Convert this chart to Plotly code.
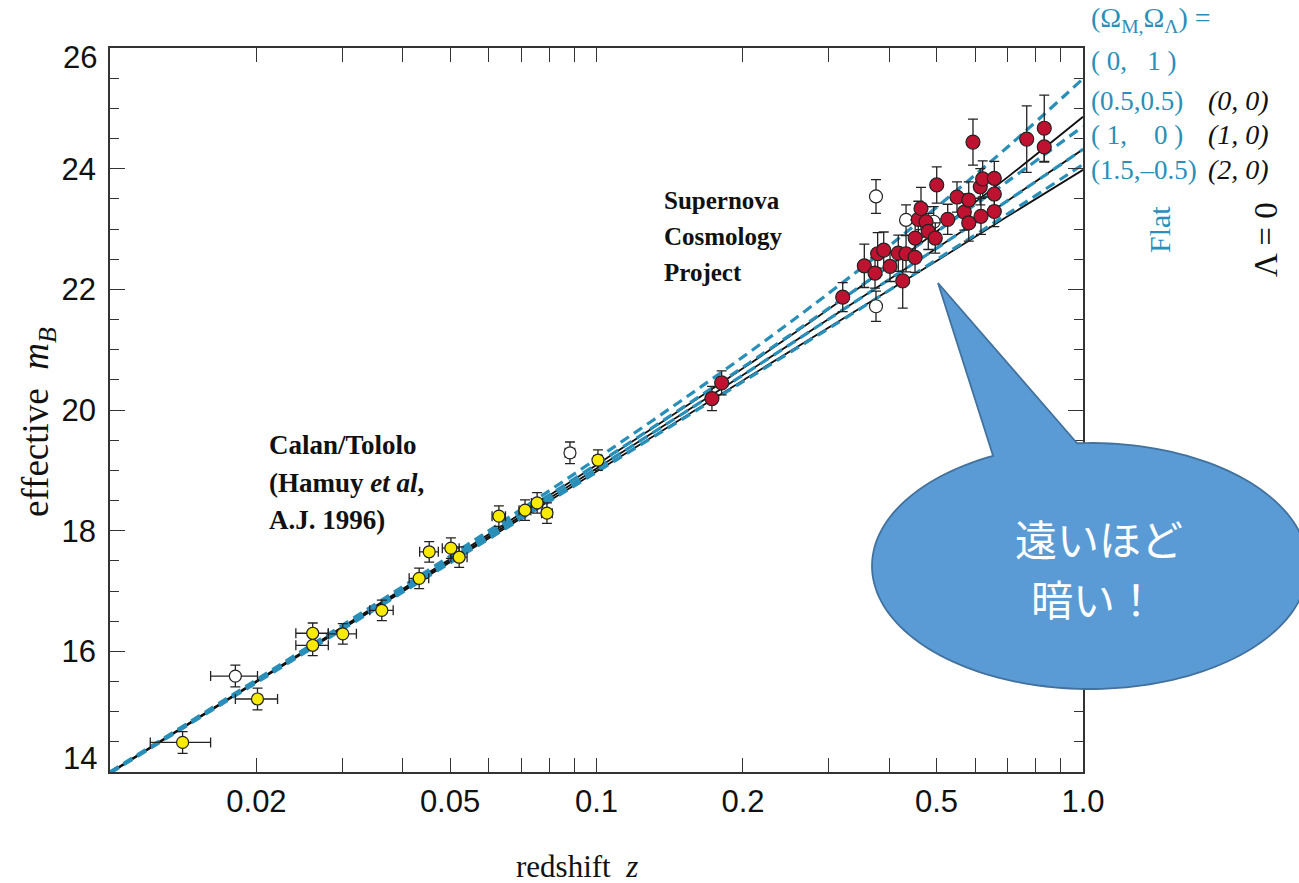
import numpy as np
import plotly.graph_objects as go

# ---------------- data ----------------
# model curves: redshift grid and effective m_B for each cosmology
z_model = [0.01, 0.02, 0.05, 0.1, 0.2, 0.35, 0.5, 0.7, 1.0]
m_flat_0_1 = [14.00, 15.53, 17.58, 19.19, 20.88, 22.35, 23.36, 24.36, 25.49]
m_flat_05_05 = [13.99, 15.51, 17.54, 19.10, 20.71, 22.06, 22.95, 23.79, 24.70]
m_flat_1_0 = [13.99, 15.50, 17.50, 19.03, 20.58, 21.86, 22.68, 23.47, 24.32]
m_flat_15_m05 = [13.98, 15.48, 17.465, 18.97, 20.47, 21.69, 22.49, 23.25, 24.07]
m_open_0_0 = [13.99, 15.51, 17.53, 19.09, 20.69, 22.05, 22.96, 23.86, 24.86]
m_open_1_0 = [13.99, 15.50, 17.50, 19.03, 20.58, 21.86, 22.68, 23.47, 24.32]
m_open_2_0 = [13.98, 15.49, 17.475, 18.98, 20.49, 21.70, 22.47, 23.21, 23.98]

# Calan/Tololo supernovae (yellow)
ct_z = [0.0141, 0.0201, 0.0261, 0.0261, 0.0301, 0.0362, 0.0432, 0.0453,
        0.0502, 0.0522, 0.0630, 0.0713, 0.0755, 0.0791, 0.1007]
ct_m = [14.49, 15.21, 16.10, 16.30, 16.29, 16.68, 17.21, 17.65,
        17.71, 17.56, 18.24, 18.34, 18.46, 18.29, 19.17]
ct_zerr = [0.002, 0.002, 0.002, 0.002, 0.002, 0.002, 0.002, 0.002,
           0.002, 0.002, 0.002, 0.002, 0.002, 0.002, 0.002]
ct_merr = [0.18, 0.18, 0.17, 0.17, 0.17, 0.17, 0.17, 0.17,
           0.17, 0.17, 0.17, 0.17, 0.17, 0.17, 0.17]

# Calan/Tololo excluded (open)
cto_z = [0.0181, 0.0882]
cto_m = [15.59, 19.29]
cto_zerr = [0.002, 0.002]
cto_merr = [0.18, 0.18]

# Supernova Cosmology Project (red)
scp_z = [0.1727, 0.1808, 0.3207, 0.3552, 0.3737, 0.3784, 0.3894, 0.4012,
         0.4172, 0.4260, 0.4328, 0.4516, 0.4519, 0.4587, 0.4645, 0.4757,
         0.4808, 0.4970, 0.5004, 0.5271, 0.5508, 0.5702, 0.5823, 0.5823,
         0.5941, 0.6150, 0.6220, 0.6170, 0.6572, 0.6572, 0.6572, 0.7662,
         0.8325, 0.8325]
scp_m = [20.19, 20.45, 21.87, 22.39, 22.27, 22.59, 22.65, 22.38,
         22.60, 22.14, 22.59, 22.53, 22.85, 23.16, 23.34, 23.12,
         22.96, 22.85, 23.73, 23.16, 23.53, 23.28, 23.48, 23.10,
         24.44, 23.70, 23.83, 23.21, 23.84, 23.58, 23.29, 24.49,
         24.67, 24.36]
scp_merr = [0.20, 0.20, 0.24, 0.36, 0.25, 0.35, 0.30, 0.25,
            0.30, 0.45, 0.30, 0.25, 0.30, 0.30, 0.35, 0.25,
            0.30, 0.25, 0.30, 0.25, 0.25, 0.30, 0.30, 0.30,
            0.38, 0.30, 0.30, 0.30, 0.28, 0.20, 0.25, 0.55,
            0.55, 0.25]

# SCP excluded (open)
scpo_z = [0.3754, 0.3754, 0.4328, 0.4933]
scpo_m = [23.54, 21.72, 23.15, 23.12]
scpo_merr = [0.28, 0.25, 0.25, 0.25]

x_tickvals = [0.02, 0.05, 0.1, 0.2, 0.5, 1.0]
x_ticktext = ["0.02", "0.05", "0.1", "0.2", "0.5", "1.0"]
x_minor = [0.03, 0.04, 0.06, 0.07, 0.08, 0.09, 0.3, 0.4, 0.6, 0.7, 0.8, 0.9]
y_tickvals = [16, 18, 20, 22, 24]
y_ticktext = ["16", "18", "20", "22", "24"]
y_end_labels = ["26", "14"]   # end labels, drawn just inside the frame

# ---------------- styling / layout ----------------
W, H = 1299, 883
L, R, T, B = 110, 1083, 48, 772
TEAL = "#2a8fb8"
SERIF = "Liberation Serif"
SANS = "Liberation Sans"


def px(x):
    return (x - L) / (R - L)


def py(y):
    return (B - y) / (B - T)


fig = go.Figure()

for m in [m_open_0_0, m_open_1_0, m_open_2_0]:
    fig.add_trace(go.Scatter(x=z_model, y=m, mode="lines",
                             line=dict(color="#111111", width=1.8),
                             line_shape="spline", hoverinfo="skip"))
for m in [m_flat_0_1, m_flat_05_05, m_flat_1_0, m_flat_15_m05]:
    fig.add_trace(go.Scatter(x=z_model, y=m, mode="lines",
                             line=dict(color=TEAL, width=3.2, dash="10px,6px"),
                             line_shape="spline", hoverinfo="skip"))

err_style = dict(type="data", color="#222222", thickness=1.3, width=5)

fig.add_trace(go.Scatter(
    x=cto_z, y=cto_m, mode="markers",
    marker=dict(size=12, color="white", line=dict(color="#222222", width=1.2)),
    error_x=dict(err_style, array=cto_zerr),
    error_y=dict(err_style, array=cto_merr)))
fig.add_trace(go.Scatter(
    x=ct_z, y=ct_m, mode="markers",
    marker=dict(size=12, color="#f8ea00", line=dict(color="#222222", width=1.2)),
    error_x=dict(err_style, array=ct_zerr),
    error_y=dict(err_style, array=ct_merr)))
fig.add_trace(go.Scatter(
    x=scpo_z, y=scpo_m, mode="markers",
    marker=dict(size=13, color="white", line=dict(color="#222222", width=1.2)),
    error_y=dict(err_style, array=scpo_merr)))
fig.add_trace(go.Scatter(
    x=scp_z, y=scp_m, mode="markers",
    marker=dict(size=14, color="#bf1230", line=dict(color="#222222", width=1.2)),
    error_y=dict(err_style, array=scp_merr)))

TICKFONT = dict(family=SANS, size=31, color="#111111")

fig.update_layout(
    width=W, height=H,
    margin=dict(l=L, r=W - R, t=T, b=H - B),
    paper_bgcolor="white", plot_bgcolor="white",
    showlegend=False,
    xaxis=dict(type="log", range=[-2, 0], showgrid=False, zeroline=False,
               showline=True, linecolor="#333333", linewidth=1.5, mirror="allticks",
               ticks="inside", ticklen=14, tickwidth=1.2, tickcolor="#333333",
               tickmode="array", tickvals=x_tickvals, ticktext=x_ticktext,
               tickfont=TICKFONT, ticklabelstandoff=1,
               minor=dict(tickmode="array", tickvals=x_minor, ticks="inside",
                          ticklen=14, tickwidth=1.2, tickcolor="#333333")),
    yaxis=dict(range=[14, 26], showgrid=False, zeroline=False,
               showline=True, linecolor="#333333", linewidth=1.5, mirror="allticks",
               ticks="inside", ticklen=15, tickwidth=1.2, tickcolor="#333333",
               tickmode="array", tickvals=y_tickvals, ticktext=y_ticktext,
               tickfont=TICKFONT, ticklabelstandoff=6,
               minor=dict(dtick=0.5, ticks="inside", ticklen=9, tickwidth=1.2,
                          tickcolor="#333333")),
)

ann = []


def add_text(x, y, text, size, color="#111111", family=SERIF, xanchor="left",
             angle=0):
    ann.append(dict(x=px(x), y=py(y), xref="paper", yref="paper", text=text,
                    showarrow=False, xanchor=xanchor, yanchor="middle",
                    textangle=angle, font=dict(family=family, size=size, color=color)))


# y-axis end labels (placed just inside the frame like the reference)
add_text(99, 57, y_end_labels[0], 31, family=SANS, xanchor="right")
add_text(99, 758, y_end_labels[1], 31, family=SANS, xanchor="right")

# group labels
add_text(662, 200, "<b>Supernova</b>", 25)
add_text(662, 237, "<b>Cosmology</b>", 25)
add_text(662, 272, "<b>Project</b>", 25)
add_text(267, 445, "<b>Calan/Tololo</b>", 27)
add_text(267, 483, "<b>(Hamuy <i>et al</i>,</b>", 27)
add_text(267, 520, "<b>A.J. 1996)</b>", 27)

# right-side key
add_text(1089, 20, "(Ω<sub>M,</sub>Ω<sub>Λ</sub>) =", 28, TEAL)
add_text(1089, 61, "( 0,   1 )", 27, TEAL)
add_text(1089, 101, "(0.5,0.5)", 27, TEAL)
add_text(1089, 135, "( 1,    0 )", 27, TEAL)
add_text(1089, 170, "(1.5,–0.5)", 27, TEAL)
add_text(1206, 100, "<i>(0, 0)</i>", 28)
add_text(1206, 134, "<i>(1, 0)</i>", 28)
add_text(1206, 169, "<i>(2, 0)</i>", 28)
add_text(1160, 230, "Flat", 30, TEAL, xanchor="center", angle=-90)
add_text(1266, 240, "Λ = 0", 33, xanchor="center", angle=-90)

# axis titles
add_text(38, 422, "effective  <i>m<sub>B</sub></i>", 37, xanchor="center", angle=-90)
add_text(577, 866, "redshift  <i>z</i>", 31, xanchor="center")

# callout speech bubble
cx, cy, rx, ry = 1090, 566, 218, 123
apex = (938, 283)
t_right = np.deg2rad(266.6)
t_left = np.deg2rad(243.6)
ts = np.linspace(t_left, t_right - 2 * np.pi, 160)
ex = cx + rx * np.cos(ts)
ey = cy + ry * np.sin(ts)
pts = [(cx + rx * np.cos(t_right), cy + ry * np.sin(t_right)), apex]
pts += list(zip(ex, ey))
path = "M " + " L ".join(f"{px(a):.5f},{py(b):.5f}" for a, b in pts) + " Z"
shapes = [dict(type="path", xref="paper", yref="paper", path=path,
               fillcolor="#5b9bd5", line=dict(color="#41719c", width=1.8),
               layer="above")]

ann.append(dict(x=px(1099), y=py(537), xref="paper", yref="paper",
                text="遠いほど", showarrow=False, xanchor="center", yanchor="middle",
                font=dict(family="Noto Sans CJK JP", size=42, color="white")))
ann.append(dict(x=px(1094), y=py(597), xref="paper", yref="paper",
                text="暗い！", showarrow=False, xanchor="center", yanchor="middle",
                font=dict(family="Noto Sans CJK JP", size=42, color="white")))

fig.update_layout(annotations=ann, shapes=shapes)

fig.write_html("out.html")
